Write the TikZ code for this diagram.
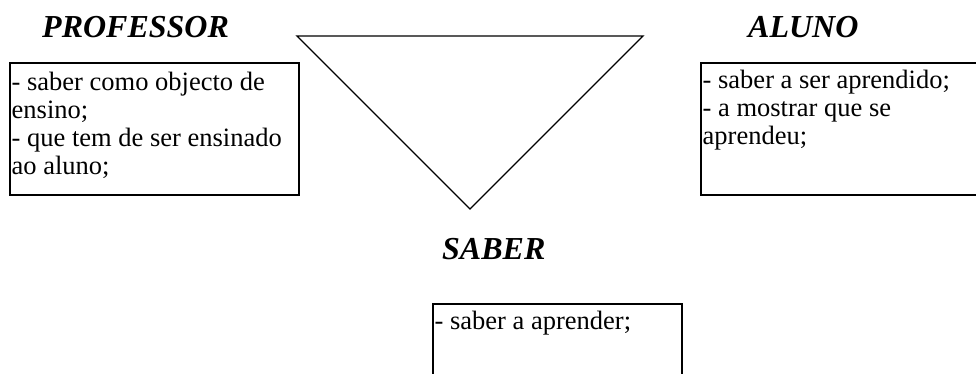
\documentclass[tikz,border=0pt]{standalone}
\usepackage{fontspec}
\setmainfont{Liberation Serif}
\begin{document}
\begin{tikzpicture}[x=1pt,y=-1pt,
  title/.style={font=\fontsize{32}{36}\selectfont\bfseries\itshape, inner sep=0, anchor=base west},
  boxframe/.style={draw, line width=1.6pt, inner sep=0, anchor=north west},
  boxtext/.style={font=\fontsize{26.5}{28}\selectfont, align=left, inner sep=0, anchor=north west},
  tri/.style={line width=1.3pt, line join=miter}]
\clip (0,0) rectangle (976,374);
\fill[white] (0,0) rectangle (976,374);
% titles
\node[title] (prof) at (42,38) {PROFESSOR};
\node[title] (aluno) at (748,38) {ALUNO};
\node[title] (saber) at (442,259) {SABER};
% triangle
\coordinate (tl) at (297,36);
\coordinate (tr) at (643,36);
\coordinate (tb) at (470,209);
\draw[tri] (tl) -- (tr) -- (tb) -- cycle;
% boxes
\node[boxframe, minimum width=289pt, minimum height=132pt] (pbox) at (9,62) {};
\node[boxframe, minimum width=300pt, minimum height=132pt] (abox) at (700,62) {};
\node[boxframe, minimum width=249pt, minimum height=100pt] (sbox) at (432,303) {};
% box texts
\node[boxtext] (ptext) at (11.5,70.4) {\strut- saber como objecto de\\ensino;\\- que tem de ser ensinado\\ao aluno;};
\node[boxtext] (atext) at (702.5,68.4) {\strut- saber a ser aprendido;\\- a mostrar que se\\aprendeu;};
\node[boxtext] (stext) at (434.5,309.4) {\strut- saber a aprender;};
\end{tikzpicture}
\end{document}
